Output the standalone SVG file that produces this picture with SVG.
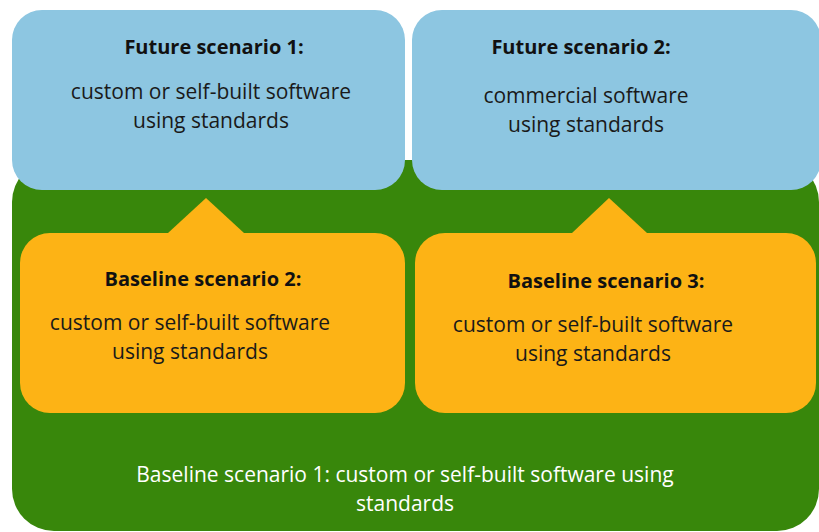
<svg xmlns="http://www.w3.org/2000/svg" width="819" height="532" viewBox="0 0 819 532">
<style>
text{font-family:"Open Sans","Liberation Sans",sans-serif;text-anchor:middle}
.t{font-weight:bold;font-size:20px;fill:#111}
.b{font-size:21px;fill:#1a1a1a}
.w{font-size:21px;fill:#ffffff}
.blue{fill:#8DC6E1}
.org{fill:#FDB315}
</style>
<rect width="819" height="532" fill="#ffffff"/>
<g id="baseline1">
<rect x="12" y="160" width="807" height="371" rx="42" fill="#38870B"/>
<text class="w" x="405" y="482">Baseline scenario 1: custom or self-built software using</text>
<text class="w" x="405" y="511">standards</text>
</g>
<g id="connectors">
<polygon class="org" points="206,198 244,233 168,233"/>
<polygon class="org" points="609,198 647,233 572,233"/>
</g>
<g id="future1">
<rect class="blue" x="12" y="10" width="393" height="180" rx="30"/>
<text class="t" x="214" y="54">Future scenario 1:</text>
<text class="b" x="211" y="99">custom or self-built software</text>
<text class="b" x="211" y="128">using standards</text>
</g>
<g id="future2">
<rect class="blue" x="412" y="10" width="409" height="180" rx="30"/>
<text class="t" x="581" y="54">Future scenario 2:</text>
<text class="b" x="586" y="103">commercial software</text>
<text class="b" x="586" y="132">using standards</text>
</g>
<g id="baseline2">
<rect class="org" x="20" y="233" width="385" height="180" rx="30"/>
<text class="t" x="203" y="286">Baseline scenario 2:</text>
<text class="b" x="190" y="330">custom or self-built software</text>
<text class="b" x="190" y="359">using standards</text>
</g>
<g id="baseline3">
<rect class="org" x="415" y="233" width="401" height="180" rx="30"/>
<text class="t" x="606" y="288">Baseline scenario 3:</text>
<text class="b" x="593" y="332">custom or self-built software</text>
<text class="b" x="593" y="361">using standards</text>
</g>
</svg>
